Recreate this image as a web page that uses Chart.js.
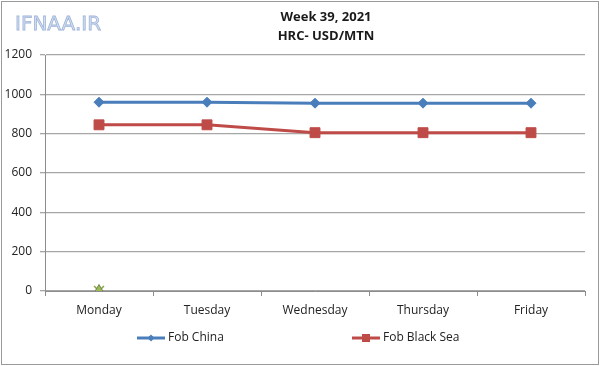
<!DOCTYPE html>
<html>
<head>
<meta charset="utf-8">
<script src="https://cdn.jsdelivr.net/npm/chart.js@4"></script>
<style>
html,body{margin:0;padding:0;background:#fff;}
#wrap{position:relative;width:600px;height:366px;}
canvas{display:block;}
</style>
</head>
<body>
<div id="wrap"><canvas id="c" width="600" height="366"></canvas></div>
<script>
const categories = ["Monday", "Tuesday", "Wednesday", "Thursday", "Friday"];
const fobChina = [960, 960, 955, 955, 955];
const fobBlackSea = [845, 845, 805, 805, 805];
const extraSeries = [0, null, null, null, null];
const yTicks = [0, 200, 400, 600, 800, 1000, 1200];
const titleLines = ["Week 39, 2021", "HRC- USD/MTN"];
const watermark = "IFNAA.IR";
const legendNames = ["Fob China", "Fob Black Sea"];

const BLUE = "#4a7ebb", RED = "#be4b48", GREEN = "#9bbb59";
const FONT = "'Open Sans', 'Liberation Sans', sans-serif";

const decor = {
  id: "decor",
  afterDraw(chart) {
    const ctx = chart.ctx;
    ctx.save();
    // frame
    ctx.strokeStyle = "#9a9a9a";
    ctx.lineWidth = 1;
    ctx.strokeRect(1.5, 1.5, 597, 363);
    // watermark
    ctx.font = "20px 'DejaVu Sans', sans-serif";
    ctx.textBaseline = "middle";
    ctx.textAlign = "left";
    ctx.lineWidth = 0.8;
    ctx.fillStyle = "#d3def0";
    ctx.strokeStyle = "#9fb5da";
    ctx.fillText(watermark, 15, 25);
    ctx.strokeText(watermark, 15, 25);
    // title
    ctx.fillStyle = "#1a1a1a";
    ctx.font = "bold 13px " + FONT;
    ctx.textAlign = "center";
    ctx.fillText(titleLines[0], 326, 17);
    ctx.fillText(titleLines[1], 326, 36);
    // legend
    const items = [
      {x: 137, color: BLUE, style: "diamond", name: legendNames[0]},
      {x: 352, color: RED, style: "square", name: legendNames[1]}
    ];
    const ly = 338;
    ctx.font = "12px " + FONT;
    ctx.textAlign = "left";
    items.forEach(it => {
      ctx.strokeStyle = it.color;
      ctx.lineWidth = 3;
      ctx.beginPath();
      ctx.moveTo(it.x, ly);
      ctx.lineTo(it.x + 28, ly);
      ctx.stroke();
      ctx.fillStyle = it.color;
      const cx = it.x + 14;
      if (it.style === "diamond") {
        ctx.beginPath();
        ctx.moveTo(cx, ly - 3.5); ctx.lineTo(cx + 3.5, ly); ctx.lineTo(cx, ly + 3.5); ctx.lineTo(cx - 3.5, ly); ctx.closePath();
        ctx.fill();
      } else {
        ctx.fillRect(cx - 4, ly - 4, 8, 8);
      }
      ctx.fillStyle = "#222";
      ctx.fillText(it.name, it.x + 31, ly);
    });
    ctx.restore();
  }
};

new Chart(document.getElementById("c"), {
  type: "line",
  data: {
    labels: categories,
    datasets: [
      {
        label: legendNames[0],
        data: fobChina,
        borderColor: BLUE,
        backgroundColor: BLUE,
        borderWidth: 3,
        pointStyle: "rectRot",
        pointRadius: 5,
        pointBorderWidth: 1,
        tension: 0
      },
      {
        label: legendNames[1],
        data: fobBlackSea,
        borderColor: RED,
        backgroundColor: RED,
        borderWidth: 3,
        pointStyle: "rect",
        pointRadius: 7,
        pointBorderWidth: 1,
        tension: 0
      },
      {
        label: "extra",
        data: extraSeries,
        borderColor: "#71893f",
        backgroundColor: GREEN,
        showLine: false,
        pointStyle: "triangle",
        pointRadius: 6.5,
        pointBorderWidth: 1
      },
      {
        label: "extra2",
        data: extraSeries,
        borderColor: "#8aa04f",
        backgroundColor: GREEN,
        showLine: false,
        pointStyle: "crossRot",
        pointRadius: 7,
        pointBorderWidth: 1.5
      }
    ]
  },
  options: {
    responsive: false,
    animation: false,
    devicePixelRatio: 1,
    layout: {padding: {left: 0, right: 15, top: 55, bottom: 0}},
    plugins: {legend: {display: false}, title: {display: false}, tooltip: {enabled: false}},
    scales: {
      x: {
        offset: true,
        grid: {offset: true, drawOnChartArea: false, drawTicks: true, tickLength: 5, color: "#8c8c8c"},
        border: {color: "#8c8c8c", width: 1},
        ticks: {color: "#222", font: {family: FONT, size: 12}, padding: 7, maxRotation: 0},
        afterFit(scale) { scale.height = 75; }
      },
      y: {
        min: 0, max: 1200,
        afterBuildTicks(scale) { scale.ticks = yTicks.map(v => ({value: v})); },
        grid: {color: "#a6a6a6", lineWidth: 1.3, tickLength: 5, drawTicks: true},
        border: {color: "#8c8c8c", width: 1},
        ticks: {color: "#222", font: {family: FONT, size: 12}, padding: 8, callback: v => String(v)},
        afterFit(scale) { scale.width = 45; }
      }
    }
  },
  plugins: [decor]
});
</script>
</body>
</html>
